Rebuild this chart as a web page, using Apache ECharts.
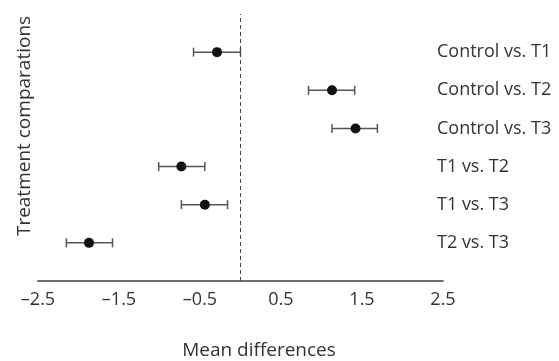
<!DOCTYPE html>
<html>
<head>
<meta charset="utf-8">
<script src="https://cdn.jsdelivr.net/npm/echarts@6/dist/echarts.min.js"></script>
<style>html,body{margin:0;padding:0;background:#fff}#c{width:559px;height:361px}</style>
</head>
<body>
<div id="c"></div>
<script>
var categories = ['Control vs. T1', 'Control vs. T2', 'Control vs. T3', 'T1 vs. T2', 'T1 vs. T3', 'T2 vs. T3'];
var means = [-0.29, 1.13, 1.42, -0.73, -0.44, -1.87];
var lower = [-0.58, 0.84, 1.13, -1.01, -0.73, -2.15];
var upper = [0.00, 1.41, 1.69, -0.44, -0.16, -1.58];
var xTicks = [-2.5, -1.5, -0.5, 0.5, 1.5, 2.5];

var n = categories.length;
function rowY(i) { return n - i; }
function fmt(v) {
  var s = Math.abs(v).toFixed(1);
  return v < 0 ? '\u2013' + s : s;
}

var pointData = means.map(function (m, i) { return [m, rowY(i)]; });
var barData = means.map(function (m, i) { return [lower[i], upper[i], rowY(i)]; });

var chart = echarts.init(document.getElementById('c'), null, { renderer: 'canvas' });
var textColor = '#333333';
var fontFamily = '"Open Sans", "Noto Sans", sans-serif';

chart.setOption({
  backgroundColor: '#ffffff',
  animation: false,
  grid: { left: 38, right: 116, top: 14, bottom: 80 },
  xAxis: {
    type: 'value',
    min: -2.5,
    max: 2.5,
    interval: 0.5,
    splitLine: { show: false },
    axisTick: { show: false },
    axisLine: { show: true, onZero: false, lineStyle: { color: '#6e6e6e', width: 2 } },
    axisLabel: {
      color: textColor,
      fontSize: 18,
      fontFamily: fontFamily,
      margin: 10,
      formatter: function (v) {
        for (var k = 0; k < xTicks.length; k++) {
          if (Math.abs(xTicks[k] - v) < 1e-6) return fmt(v);
        }
        return '';
      }
    }
  },
  yAxis: {
    type: 'value',
    position: 'right',
    min: 0,
    max: n + 1,
    interval: 1,
    splitLine: { show: false },
    axisTick: { show: false },
    axisLine: { show: false },
    axisLabel: {
      color: textColor,
      fontSize: 18,
      fontFamily: fontFamily,
      margin: -6,
      showMinLabel: true,
      showMaxLabel: true,
      formatter: function (v) {
        var idx = n - Math.round(v);
        return (idx >= 0 && idx < n && v >= 1) ? categories[idx] : '';
      }
    }
  },
  graphic: [
    {
      type: 'text',
      x: 25, y: 126,
      rotation: Math.PI / 2,
      style: {
        text: 'Treatment comparations',
        fill: textColor,
        font: '19px ' + fontFamily,
        align: 'center',
        verticalAlign: 'middle'
      }
    },
    {
      type: 'text',
      x: 259, y: 351,
      style: {
        text: 'Mean differences',
        fill: textColor,
        font: '19px ' + fontFamily,
        align: 'center',
        verticalAlign: 'middle'
      }
    }
  ],
  series: [
    {
      type: 'custom',
      data: barData,
      renderItem: function (params, api) {
        var y = api.value(2);
        var p1 = api.coord([api.value(0), y]);
        var p2 = api.coord([api.value(1), y]);
        var h = 4.5;
        var st = { stroke: '#555555', lineWidth: 1.5 };
        return {
          type: 'group',
          children: [
            { type: 'line', shape: { x1: p1[0], y1: p1[1], x2: p2[0], y2: p2[1] }, style: st },
            { type: 'line', shape: { x1: p1[0], y1: p1[1] - h, x2: p1[0], y2: p1[1] + h }, style: st },
            { type: 'line', shape: { x1: p2[0], y1: p2[1] - h, x2: p2[0], y2: p2[1] + h }, style: st }
          ]
        };
      },
      z: 2
    },
    {
      type: 'scatter',
      data: pointData,
      symbol: 'circle',
      symbolSize: 10,
      itemStyle: { color: '#111111', opacity: 1 },
      z: 3,
      markLine: {
        silent: true,
        symbol: 'none',
        label: { show: false },
        lineStyle: { color: '#444444', type: [4, 3], width: 1 },
        data: [{ xAxis: 0 }]
      }
    }
  ]
});
</script>
</body>
</html>
